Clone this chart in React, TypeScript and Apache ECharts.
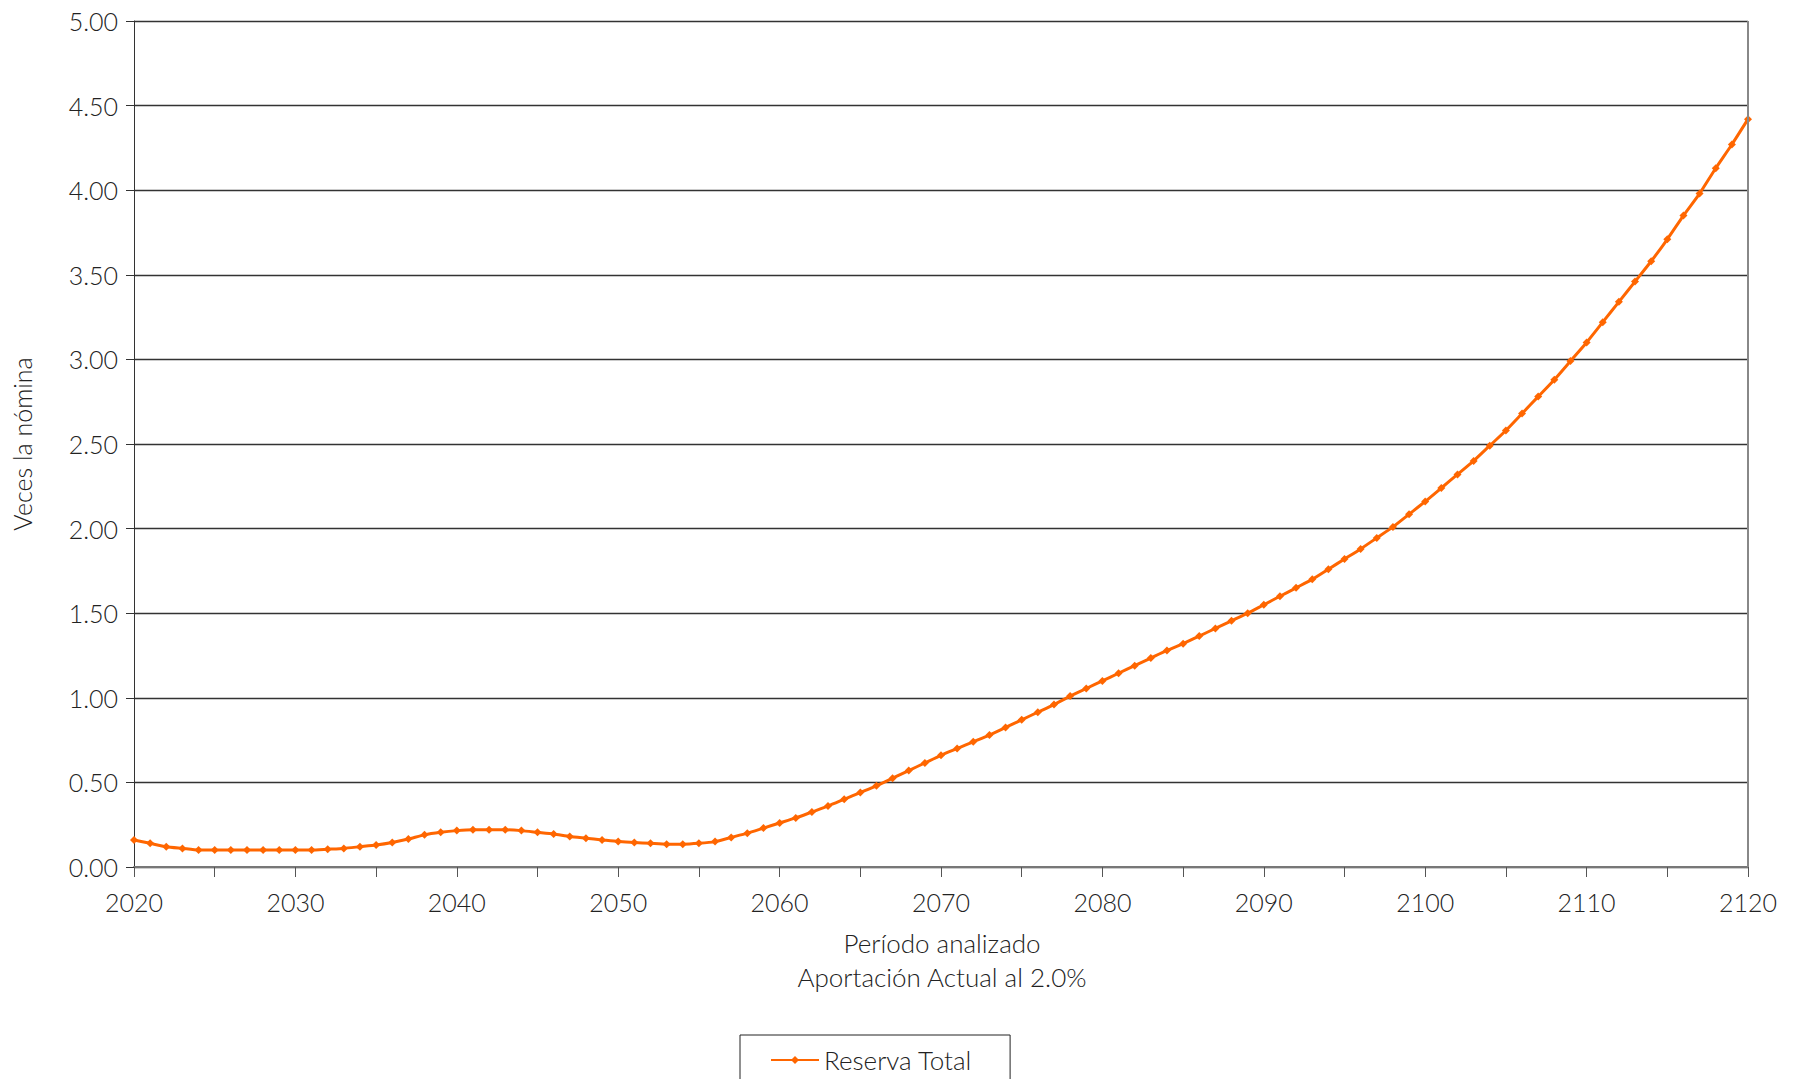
import { useEffect, useRef } from "react";
import * as echarts from "echarts";

const years: string[] = [];
for (let y = 2020; y <= 2120; y++) years.push(String(y));

const reservaTotal = [
  0.16, 0.14, 0.12, 0.11, 0.1, 0.1, 0.1, 0.1, 0.1, 0.1,
  0.1, 0.1, 0.105, 0.11, 0.12, 0.13, 0.145, 0.165, 0.19, 0.205,
  0.215, 0.22, 0.22, 0.22, 0.215, 0.205, 0.195, 0.18, 0.17, 0.16,
  0.15, 0.145, 0.14, 0.135, 0.135, 0.14, 0.15, 0.175, 0.2, 0.23,
  0.26, 0.29, 0.325, 0.36, 0.4, 0.44, 0.48, 0.525, 0.57, 0.615,
  0.66, 0.7, 0.74, 0.78, 0.825, 0.87, 0.915, 0.96, 1.01, 1.055,
  1.1, 1.145, 1.19, 1.235, 1.28, 1.32, 1.365, 1.41, 1.455, 1.5,
  1.55, 1.6, 1.65, 1.7, 1.76, 1.82, 1.88, 1.945, 2.01, 2.085,
  2.16, 2.24, 2.32, 2.4, 2.49, 2.58, 2.68, 2.78, 2.88, 2.99,
  3.1, 3.22, 3.34, 3.46, 3.58, 3.71, 3.85, 3.98, 4.13, 4.27,
  4.42,
];

const FONT = "Lato";

export default function App() {
  const ref = useRef<HTMLDivElement>(null);

  useEffect(() => {
    document.body.style.margin = "0";
    if (!ref.current) return;
    const chart = echarts.init(ref.current, undefined, { renderer: "svg" });
    chart.setOption({
      animation: false,
      textStyle: { fontFamily: FONT, color: "#222", fontWeight: 300 },
      grid: { left: 134, right: 53, top: 21, bottom: 212 },
      legend: {
        bottom: -6,
        left: 740,
        data: ["Reserva Total"],
        itemWidth: 48,
        itemHeight: 10,
        padding: [12, 38, 12, 30],
        borderColor: "#222",
        borderWidth: 1,
        textStyle: { fontSize: 26, color: "#222", fontFamily: FONT, fontWeight: 300 },
      },
      graphic: [
        {
          type: "text",
          x: 942,
          y: 926,
          style: {
            text: "Período analizado\nAportación Actual al 2.0%",
            fontSize: 26,
            lineHeight: 34,
            align: "center",
            fill: "#222",
            fontFamily: FONT,
            fontWeight: 300,
          },
        },
      ],
      xAxis: {
        type: "category",
        data: years,
        boundaryGap: false,
        axisLine: { lineStyle: { color: "#777", width: 2 } },
        axisTick: { interval: 4, length: 10, lineStyle: { color: "#555" } },
        axisLabel: { interval: 9, fontSize: 25, color: "#222", margin: 22, fontWeight: 300 },
      },
      yAxis: {
        type: "value",
        min: 0,
        max: 5,
        interval: 0.5,
        name: "Veces la nómina",
        nameLocation: "middle",
        nameGap: 100,
        nameTextStyle: { fontSize: 25, color: "#222", fontWeight: 300 },
        axisLine: { show: true, lineStyle: { color: "#333" } },
        axisTick: { show: true, length: 8, lineStyle: { color: "#333" } },
        axisLabel: { formatter: (v: number) => v.toFixed(2), fontSize: 25, color: "#222", margin: 16, fontWeight: 300 },
        splitLine: { lineStyle: { color: "#333", width: 1.3 } },
      },
      series: [
        {
          name: "Reserva Total",
          type: "line",
          data: reservaTotal,
          smooth: 0.2,
          symbol: "diamond",
          symbolSize: 8,
          lineStyle: { color: "#FF6600", width: 3 },
          itemStyle: { color: "#FF6600" },
          markLine: {
            silent: true,
            symbol: "none",
            label: { show: false },
            lineStyle: { color: "#888", type: "solid", width: 2 },
            data: [{ xAxis: "2120" }],
          },
        },
      ],
    });
    return () => chart.dispose();
  }, []);

  return <div ref={ref} style={{ width: 1801, height: 1079 }} />;
}
